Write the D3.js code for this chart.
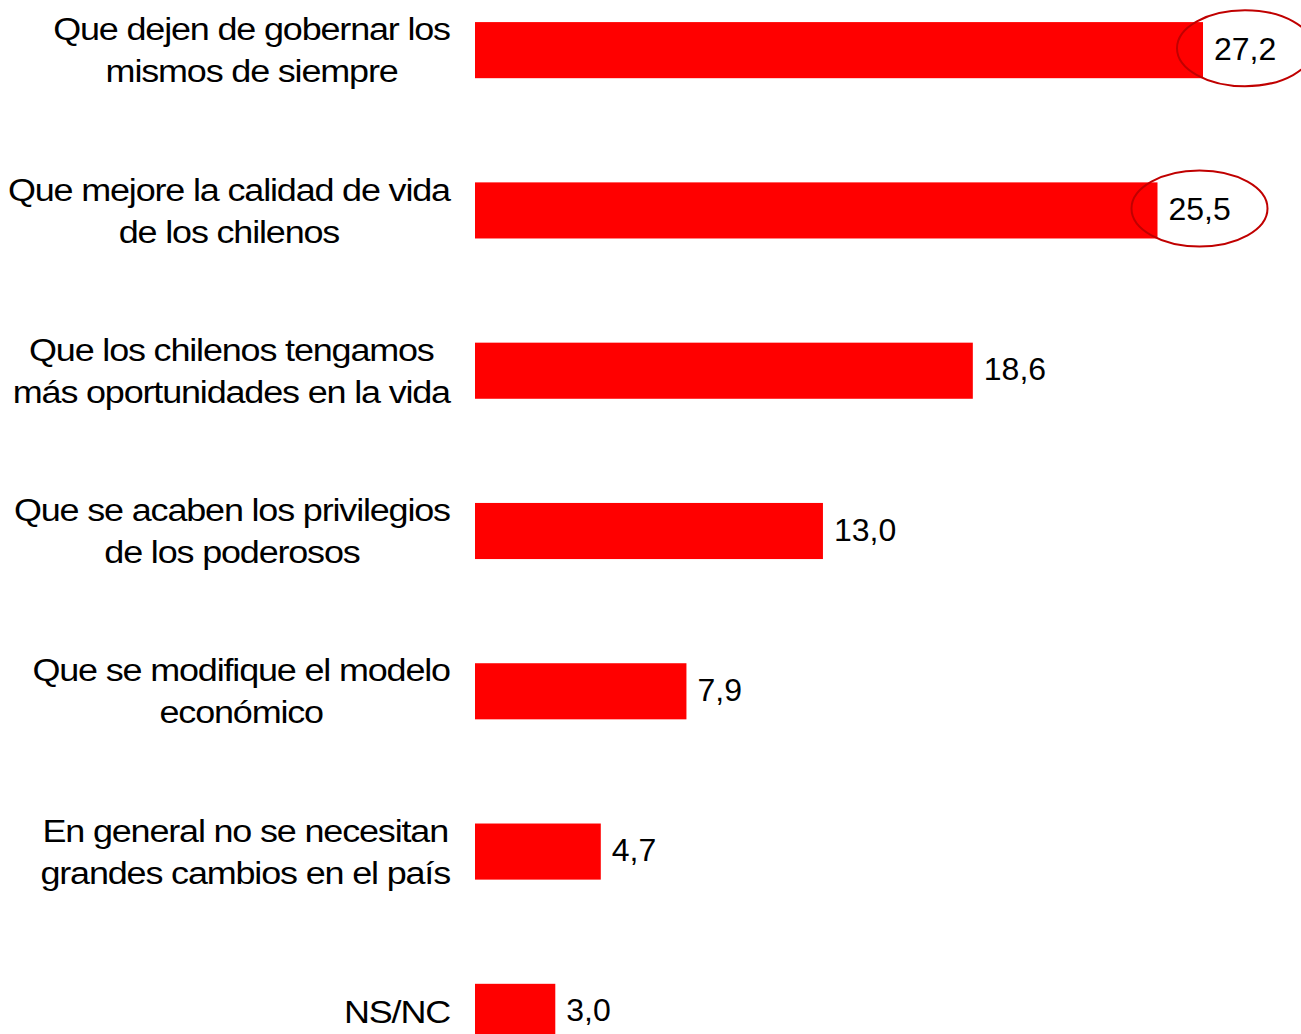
<!doctype html>
<html>
<head>
<meta charset="utf-8">
<title>Cambios</title>
<script src="https://d3js.org/d3.v7.min.js"></script>
<style>
  body { margin: 0; background: #fff; }
  .label { font-family: "Liberation Sans", Arial, sans-serif; font-size: 31px; fill: #000; letter-spacing: -1px; }
  .value { font-family: "Liberation Sans", Arial, sans-serif; font-size: 32px; fill: #000; }
</style>
</head>
<body>
<script>
// categories (each one split in the lines shown on the chart)
var categories = [
  ["Que dejen de gobernar los", "mismos de siempre"],
  ["Que mejore la calidad de vida", "de los chilenos"],
  ["Que los chilenos tengamos", "más oportunidades en la vida"],
  ["Que se acaben los privilegios", "de los poderosos"],
  ["Que se modifique el modelo", "económico"],
  ["En general no se necesitan", "grandes cambios en el país"],
  ["NS/NC"]
];
var values = [27.2, 25.5, 18.6, 13.0, 7.9, 4.7, 3.0];
var valueLabels = ["27,2", "25,5", "18,6", "13,0", "7,9", "4,7", "3,0"];
// values that are circled
var circled = [0, 1];

var w = 1301, h = 1034;

var svg = d3.select("body")
  .append("svg")
  .attr("width", w)
  .attr("height", h);

var keys = categories.map(function(d, i) { return i; });

var y = d3.scaleBand()
  .domain(keys)
  .range([-30, 1092])
  .paddingInner(0.65)
  .paddingOuter(0.325);

var x = d3.scaleLinear()
  .domain([0, 27.2])
  .range([475, 1203]);

// bars
svg.append("g")
  .selectAll("rect")
  .data(values)
  .enter()
  .append("rect")
  .attr("x", x(0))
  .attr("y", function(d, i) { return y(i); })
  .attr("width", function(d) { return x(d) - x(0); })
  .attr("height", y.bandwidth())
  .attr("fill", "#ff0000");

// value labels
svg.append("g")
  .selectAll("text")
  .data(values)
  .enter()
  .append("text")
  .attr("class", "value")
  .attr("x", function(d) { return x(d) + 11; })
  .attr("y", function(d, i) { return y(i) + y.bandwidth() / 2 - 2; })
  .attr("dy", "0.36em")
  .text(function(d, i) { return valueLabels[i]; });

// category labels: lines centered inside a block right-aligned at 450,
// the text is a bit stretched sideways like in the original
var lineH = 42;
var right = 450;
var stretch = 1.16;
categories.forEach(function(lines, i) {
  var g = svg.append("g");
  var cy = y(i) + y.bandwidth() / 2;
  var texts = g.selectAll("text")
    .data(lines)
    .enter()
    .append("text")
    .attr("class", "label")
    .attr("text-anchor", "middle")
    .attr("x", 0)
    .attr("y", function(d, j) { return cy + (j - (lines.length - 1) / 2) * lineH; })
    .attr("dy", "0.36em")
    .text(function(d) { return d; });
  var maxW = d3.max(texts.nodes(), function(n) { return n.getComputedTextLength(); });
  g.attr("transform", "translate(" + (right - maxW * stretch / 2) + ",0) scale(" + stretch + ",1)");
});

// ellipses round the two top values
svg.append("g")
  .selectAll("ellipse")
  .data(circled)
  .enter()
  .append("ellipse")
  .attr("cx", function(i) { return x(values[i]) + 42; })
  .attr("cy", function(i) { return y(i) + y.bandwidth() / 2 - 2; })
  .attr("rx", 68)
  .attr("ry", 38)
  .attr("fill", "none")
  .attr("stroke", "#c00000")
  .attr("stroke-width", 2);
</script>
</body>
</html>
